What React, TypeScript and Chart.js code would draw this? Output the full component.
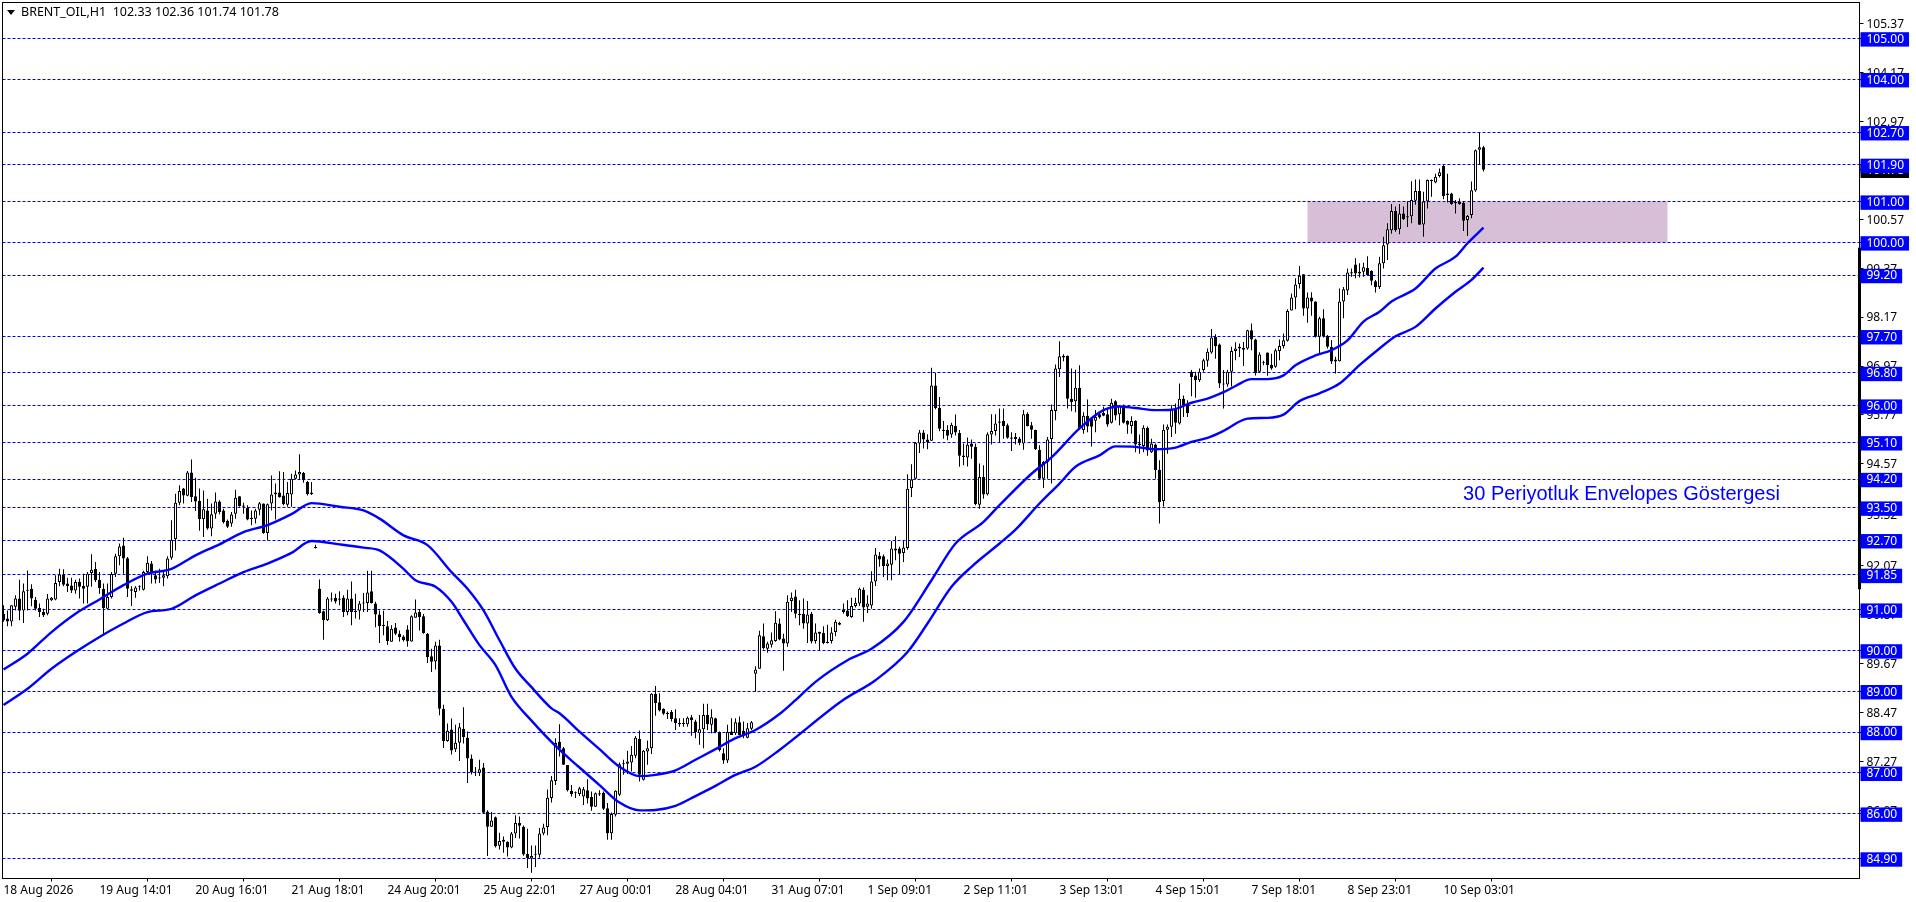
import React, { useEffect, useRef } from "react";
import { Chart, registerables } from "chart.js";

Chart.register(...registerables);

const opens = [
  90.90,90.78,90.71,91.07,91.27,90.98,91.49,91.51,91.24,91.04,
  90.94,90.90,91.23,91.25,91.68,91.86,91.64,91.59,91.47,91.68,
  91.58,91.56,91.90,92.00,91.73,91.51,91.02,91.31,91.88,92.31,
  92.57,92.26,91.50,91.43,91.57,91.49,91.92,92.13,91.84,91.78,
  91.78,91.82,92.27,92.73,93.62,93.97,93.79,94.36,93.78,93.67,
  93.22,93.43,92.99,93.35,93.65,93.43,93.18,93.11,93.35,93.78,
  93.55,93.49,93.25,93.23,93.45,93.60,92.88,93.60,93.83,93.87,
  93.80,93.57,93.82,94.21,94.31,94.35,94.13,93.83,92.52,91.51,
  90.96,90.74,91.25,91.29,91.27,91.29,90.94,91.27,90.97,90.97,
  91.15,91.16,91.45,91.15,90.88,90.63,90.59,90.21,90.56,90.41,
  90.34,90.51,90.22,90.80,90.94,90.84,90.41,89.86,89.73,90.12,
  88.57,87.78,88.06,87.58,87.74,88.08,87.86,87.35,87.03,87.00,
  87.13,86.05,85.68,85.91,85.21,85.36,85.31,85.17,85.51,85.77,
  85.68,85.01,84.90,84.99,84.99,85.51,85.67,86.38,86.80,87.76,
  87.60,87.19,86.56,86.52,86.48,86.42,86.57,86.41,86.17,86.50,
  86.51,86.13,85.52,85.97,86.46,87.21,87.22,87.25,87.42,87.83,
  86.83,87.52,87.60,88.94,88.73,88.57,88.47,88.49,88.34,88.22,
  88.22,88.19,88.36,88.26,87.97,88.07,88.42,88.18,88.34,88.00,
  87.48,87.30,88.01,87.97,88.24,88.03,87.86,88.08,89.43,89.55,
  90.35,90.04,90.14,90.23,90.66,90.29,90.17,91.21,91.32,90.90,
  90.90,90.66,90.90,90.23,90.46,90.43,90.21,90.23,90.45,90.68,
  91.00,90.98,90.82,91.09,91.15,91.49,91.07,91.10,91.69,92.32,
  92.31,92.07,92.10,92.50,92.50,92.39,92.51,93.98,94.21,95.07,
  95.34,95.17,95.14,96.49,95.95,95.41,95.40,95.29,95.50,95.33,
  94.78,94.73,95.07,94.99,93.57,94.25,93.83,95.29,95.38,95.58,
  95.62,95.52,95.22,95.18,95.19,95.07,95.80,95.52,95.41,94.92,
  94.21,94.62,95.18,95.87,96.89,97.22,97.22,96.17,96.11,96.44,
  95.40,95.75,95.68,95.63,95.79,95.82,95.79,95.58,96.11,95.79,
  95.99,95.62,95.50,95.63,95.07,95.01,95.46,94.86,95.05,94.43,
  93.66,95.41,95.48,95.93,95.56,96.17,96.03,96.83,96.74,96.62,
  96.87,97.10,97.30,97.68,97.50,96.54,96.52,96.83,97.34,97.40,
  97.42,97.40,97.85,97.62,96.83,97.05,97.30,97.00,96.95,97.34,
  97.46,97.59,98.33,98.65,98.98,99.22,98.38,98.65,98.55,97.69,
  98.14,97.71,97.44,97.13,97.09,98.55,98.82,99.27,99.46,99.24,
  99.28,99.37,99.30,99.05,98.91,99.49,99.95,100.30,100.77,100.32,
  100.71,100.64,100.64,101.02,101.26,100.44,101.00,101.50,101.47,101.63,
  101.87,101.20,101.20,100.99,100.99,100.97,100.55,100.67,101.27,102.27,
  102.33,
];

const closes = [
  90.74,90.71,91.11,91.27,90.97,91.45,91.46,91.27,91.02,90.94,
  90.86,91.27,91.29,91.65,91.86,91.61,91.58,91.47,91.68,91.56,
  91.51,91.88,91.98,91.72,91.53,91.04,91.31,91.87,92.31,92.55,
  92.25,91.51,91.46,91.54,91.55,91.92,92.15,91.90,91.74,91.76,
  91.84,92.25,92.71,93.62,93.91,93.80,94.36,93.76,93.65,93.22,
  93.46,92.99,93.34,93.65,93.39,93.14,93.03,93.33,93.74,93.54,
  93.52,93.21,93.22,93.43,93.61,92.88,93.58,93.82,93.87,93.76,
  93.58,93.86,94.21,94.31,94.37,94.17,93.83,93.87,92.51,90.92,
  90.74,91.27,91.27,91.20,91.24,90.94,91.27,90.94,90.94,91.15,
  91.17,91.42,91.16,90.88,90.59,90.60,90.23,90.53,90.41,90.33,
  90.25,90.23,90.84,90.93,90.82,90.43,89.84,89.72,90.12,88.57,
  87.78,88.03,87.55,87.74,88.12,87.88,87.35,87.02,87.01,87.09,
  86.02,85.68,85.83,85.20,85.33,85.31,85.17,85.51,85.77,85.70,
  85.00,84.91,84.96,84.99,85.51,85.66,86.39,86.82,87.73,87.59,
  87.20,86.57,86.48,86.50,86.62,86.60,86.37,86.17,86.50,86.47,
  86.12,85.52,85.99,86.56,87.21,87.23,87.28,87.44,87.86,86.95,
  87.54,87.60,88.94,88.71,88.53,88.45,88.44,88.32,88.22,88.19,
  88.19,88.35,88.29,88.00,88.07,88.42,88.19,88.36,88.00,87.56,
  87.30,88.00,87.93,88.24,87.93,87.91,88.09,88.24,89.53,90.37,
  90.06,90.17,90.25,90.68,90.27,90.17,91.19,91.29,90.90,90.86,
  90.66,90.88,90.22,90.44,90.41,90.18,90.18,90.44,90.70,90.63,
  90.94,90.84,91.09,91.17,91.51,91.05,91.15,91.69,92.35,92.23,
  92.07,92.13,92.50,92.45,92.37,92.52,93.96,94.19,95.09,95.34,
  95.17,95.11,96.49,95.94,95.43,95.38,95.26,95.53,95.34,94.77,
  94.74,95.04,94.99,93.59,94.25,93.82,95.30,95.38,95.56,95.61,
  95.50,95.21,95.19,95.23,95.09,95.79,95.50,95.41,94.93,94.21,
  94.62,95.17,95.89,96.91,97.21,97.18,96.17,96.09,96.44,95.44,
  95.75,95.49,95.48,95.72,95.71,95.75,95.54,96.07,95.76,95.99,
  95.58,95.53,95.62,95.05,95.03,95.46,94.90,95.07,94.42,93.64,
  95.41,95.48,95.91,95.58,96.17,96.01,95.82,96.70,96.62,96.83,
  97.11,97.32,97.67,97.46,96.54,96.52,96.83,97.34,97.40,97.44,
  97.37,97.85,97.62,96.80,97.25,97.04,96.99,96.91,97.36,97.46,
  97.60,98.32,98.65,98.97,99.18,98.38,98.65,98.55,97.69,98.14,
  97.70,97.44,97.08,97.08,98.55,98.85,99.26,99.24,99.24,99.28,
  99.39,99.20,99.06,98.91,99.49,99.93,100.32,100.77,100.30,100.71,
  100.57,100.61,101.04,101.26,100.43,101.00,101.53,101.53,101.61,101.72,
  101.14,101.16,100.94,100.96,100.94,100.53,100.65,101.28,102.26,102.33,
  101.78,
];

const highs = [
  91.11,90.98,91.11,91.35,91.73,91.64,91.96,91.62,91.31,91.15,
  91.02,91.38,91.31,91.84,92.00,91.99,91.78,91.78,91.73,91.76,
  91.88,91.92,92.36,92.17,91.92,91.64,91.64,91.92,92.37,92.62,
  92.76,92.29,91.57,91.58,91.60,91.95,92.31,92.19,91.96,92.00,
  91.94,92.31,93.19,93.84,94.05,93.98,94.40,94.68,94.23,93.97,
  93.92,93.72,93.60,93.87,93.68,93.47,93.21,93.39,93.94,93.78,
  93.62,93.56,93.43,93.47,93.64,93.60,93.60,94.29,94.09,94.39,
  94.37,94.13,94.33,94.41,94.81,94.37,94.15,94.13,92.59,91.74,
  90.98,91.31,91.42,91.39,91.45,91.35,91.49,91.69,91.39,91.21,
  91.41,91.95,91.95,91.19,90.98,90.97,90.72,90.62,90.67,90.49,
  90.37,90.62,90.86,91.25,91.00,90.89,90.43,90.04,90.21,90.26,
  88.67,88.21,88.33,88.18,88.22,88.61,88.01,87.45,87.14,87.32,
  87.24,86.08,86.04,85.93,85.53,85.44,85.32,85.55,85.96,85.93,
  85.71,85.63,85.22,85.22,85.65,85.75,86.59,86.92,87.85,88.19,
  87.63,87.19,86.70,86.54,86.66,86.65,86.84,86.54,86.52,86.57,
  86.54,86.26,86.03,86.57,87.25,87.32,87.54,87.66,87.90,88.04,
  87.56,87.79,88.95,89.13,88.95,88.58,88.50,88.54,88.56,88.34,
  88.34,88.38,88.42,88.30,88.42,88.69,88.69,88.56,88.35,88.01,
  87.60,88.18,88.34,88.34,88.38,88.26,88.22,88.27,89.61,90.48,
  90.66,90.21,90.44,90.96,90.78,90.41,91.35,91.42,91.49,91.23,
  91.27,91.21,90.94,90.66,90.46,90.59,90.63,90.57,90.75,90.70,
  91.15,91.23,91.29,91.29,91.54,91.54,91.35,91.94,92.51,92.41,
  92.35,92.23,92.68,92.80,92.54,92.70,94.32,94.56,95.11,95.40,
  95.40,95.30,96.93,96.80,96.21,95.62,95.52,95.58,95.78,95.40,
  95.07,95.22,95.17,95.07,94.58,94.54,95.35,95.79,95.79,95.93,
  95.93,95.56,95.35,95.33,95.23,95.89,95.84,95.60,95.41,95.03,
  94.64,95.23,96.03,97.01,97.58,97.26,97.23,96.91,96.88,96.99,
  95.84,96.15,95.71,95.89,95.84,95.97,95.93,96.17,96.13,96.01,
  96.03,95.64,95.74,95.64,95.29,95.52,95.49,95.19,95.07,94.66,
  95.54,95.54,96.01,96.05,96.54,96.25,96.13,96.87,96.83,96.91,
  97.15,97.40,97.88,97.75,97.52,96.87,96.88,97.44,97.55,97.52,
  97.56,97.86,98.01,97.64,97.31,97.10,97.30,97.27,97.40,97.62,
  97.77,98.36,98.75,99.12,99.42,99.22,98.77,98.78,98.56,98.18,
  98.36,97.73,97.61,97.20,98.87,98.91,99.36,99.36,99.61,99.49,
  99.50,99.66,99.32,99.08,99.65,100.14,100.47,100.94,100.88,100.94,
  100.88,101.01,101.50,101.54,101.54,101.24,101.54,101.54,101.68,101.81,
  101.90,101.68,101.22,101.04,101.08,101.00,100.67,101.49,102.28,102.70,
  102.36,
];

const lows = [
  90.70,90.59,90.59,90.98,90.74,90.67,90.98,91.08,90.98,90.82,
  90.82,90.86,91.21,91.23,91.57,91.57,91.43,91.41,91.39,91.27,
  91.15,91.15,91.56,91.68,91.39,90.41,91.00,91.27,91.80,92.09,
  91.88,91.31,91.09,91.29,91.47,91.47,91.87,91.64,91.64,91.65,
  91.57,91.76,92.22,92.45,93.56,93.60,93.78,93.64,93.42,92.93,
  92.78,92.96,92.80,93.23,93.34,93.11,93.00,93.03,93.23,93.52,
  93.35,93.19,93.07,93.11,93.31,92.86,92.70,93.43,93.21,93.74,
  93.56,93.52,93.52,94.19,94.19,94.11,93.80,93.81,92.50,90.90,
  90.26,90.72,91.19,91.15,91.11,90.82,90.86,90.62,90.78,90.76,
  90.94,90.94,91.15,90.57,90.18,90.37,90.13,90.21,90.37,90.22,
  90.22,90.09,90.21,90.80,90.49,90.41,89.69,89.47,89.53,88.41,
  87.61,87.76,87.45,87.51,87.29,87.72,86.75,86.96,86.92,86.92,
  86.00,84.96,85.67,85.17,85.12,85.04,84.95,85.15,85.40,85.39,
  84.97,84.67,84.55,84.69,84.92,85.47,85.47,86.27,86.70,87.40,
  87.19,86.54,86.42,86.38,86.43,86.21,86.25,86.07,86.16,86.43,
  86.09,85.36,85.36,85.93,86.43,86.95,86.97,87.03,87.36,86.79,
  86.81,87.20,87.46,88.40,88.50,88.42,88.32,88.26,88.05,88.13,
  88.13,88.13,87.91,87.85,87.69,87.60,88.05,87.97,87.97,87.52,
  87.22,87.24,87.93,87.93,87.93,87.85,87.85,88.05,88.99,89.55,
  90.02,89.94,90.07,90.21,90.25,89.50,90.09,90.94,90.79,90.62,
  90.53,90.18,90.17,90.17,90.00,90.15,90.17,90.17,90.35,90.62,
  90.90,90.82,90.80,91.05,91.09,90.70,90.92,91.02,91.58,92.05,
  91.80,91.72,91.72,92.21,91.86,92.17,92.47,93.76,94.19,94.84,
  94.95,94.93,95.13,95.91,95.37,95.19,95.15,95.21,95.27,94.50,
  94.54,94.51,94.70,93.56,93.47,93.72,93.80,95.05,95.27,95.11,
  95.19,95.19,94.89,95.05,95.03,94.92,95.49,95.19,94.91,94.19,
  93.98,94.21,94.09,95.64,96.70,97.09,95.93,95.86,95.84,95.40,
  95.31,95.35,95.00,95.35,95.68,95.74,95.48,95.56,95.64,95.52,
  95.56,95.31,95.31,94.86,94.82,94.86,94.77,94.84,94.21,93.11,
  93.53,94.82,95.23,95.31,95.54,95.72,95.72,96.23,96.19,96.58,
  96.83,96.95,97.27,97.15,96.43,95.93,96.46,96.47,97.11,97.19,
  96.97,97.37,97.36,96.74,96.80,96.99,96.73,96.88,96.93,97.11,
  97.40,97.57,98.33,98.36,98.87,98.20,98.03,98.20,97.67,97.28,
  97.67,97.40,97.02,96.79,97.08,98.14,98.71,99.16,99.12,99.14,
  99.16,99.18,98.95,98.77,98.86,99.36,99.57,100.21,100.26,100.20,
  100.55,100.38,100.47,100.92,100.43,100.14,100.83,101.12,101.45,101.59,
  101.06,100.98,100.92,100.71,100.92,100.28,100.16,100.59,101.24,101.91,
  101.74,
];

const upperAt = [0,6,12,18,24,30,36,42,48,54,60,66,72,77,84,90,94,100,106,112,116,120,124,128,132,137,139,144,149,154,159,163,168,173,178,183,188,194,198,203,211,217,225,232,238,245,249,257,262,269,275,279,283,288,292,297,301,305,308,312,316,320,323,328,332,336,340,344,347,353,358,363,366,370];
const upperBand = [89.53,89.92,90.45,90.90,91.25,91.60,91.88,92.00,92.33,92.60,92.90,93.07,93.34,93.61,93.52,93.43,93.23,92.82,92.58,91.92,91.51,90.98,90.25,89.55,89.10,88.58,88.46,88.01,87.58,87.15,86.92,86.95,87.06,87.32,87.58,87.85,88.05,88.44,88.78,89.23,89.76,90.04,90.70,91.72,92.62,93.15,93.56,94.33,94.73,95.44,95.89,95.98,95.94,95.89,95.90,96.07,96.17,96.33,96.48,96.65,96.65,96.74,96.99,97.23,97.36,97.60,98.06,98.30,98.55,98.87,99.36,99.65,99.98,100.36];
const lowerAt = [0,6,12,18,24,30,36,42,48,54,60,66,72,77,84,90,94,100,103,108,112,115,119,123,127,132,138,144,149,154,159,163,168,173,178,183,188,194,210,218,226,231,237,242,249,253,259,264,268,274,278,283,288,293,297,301,305,311,316,320,324,329,334,339,344,348,353,358,363,367,370];
const lowerBand = [88.66,89.06,89.55,89.96,90.33,90.66,90.94,91.02,91.35,91.64,91.92,92.13,92.39,92.68,92.60,92.52,92.45,92.00,91.72,91.56,91.19,90.74,90.13,89.64,88.86,88.28,87.66,87.13,86.70,86.27,86.08,86.09,86.19,86.43,86.68,86.95,87.15,87.56,88.79,89.27,89.96,90.66,91.56,92.05,92.62,92.96,93.60,94.09,94.50,94.78,95.00,94.99,94.93,94.97,95.11,95.21,95.38,95.68,95.70,95.78,96.11,96.30,96.54,96.99,97.40,97.70,97.93,98.38,98.79,99.08,99.38];

const levels = [105, 104, 102.7, 101.9, 101, 100, 99.2, 97.7, 96.8, 96, 95.1, 94.2, 93.5, 92.7, 91.85, 91, 90, 89, 88, 87, 86, 84.9];
const priceTicks = [105.37, 104.17, 102.97, 100.57, 99.37, 98.17, 96.97, 95.77, 94.57, 93.32, 92.07, 90.87, 89.67, 88.47, 87.27, 86.07];
const lastPrice = 101.78;

const timeAt = [0, 24, 48, 72, 96, 120, 144, 168, 192, 216, 240, 264, 288, 312, 336, 360];
const timeLabels = ["18 Aug 2026", "19 Aug 14:01", "20 Aug 16:01", "21 Aug 18:01", "24 Aug 20:01", "25 Aug 22:01", "27 Aug 00:01", "28 Aug 04:01", "31 Aug 07:01", "1 Sep 09:01", "2 Sep 11:01", "3 Sep 13:01", "4 Sep 15:01", "7 Sep 18:01", "8 Sep 23:01", "10 Sep 03:01"];

const header = "BRENT_OIL,H1  102.33 102.36 101.74 101.78";
const note = "30 Periyotluk Envelopes Göstergesi";
const axisFont = { family: "'Noto Sans'", size: 12 };

// stop the axes from reserving room for their first and last labels
const noPadding = (s: any) => {
    s.paddingTop = 0;
    s.paddingBottom = 0;
    s.paddingLeft = 0;
    s.paddingRight = 0;
};

const App = () => {
    const ref = useRef<HTMLCanvasElement>(null);

    useEffect(() => {
        const candles = opens.map((o, i) => ({ o, c: closes[i], h: highs[i], l: lows[i], x: i }));

        // the shaded zone goes under the dashed levels
        const zone = {
            id: "zone",
            beforeDraw(chart: any) {
                const { ctx, chartArea: a, scales: { x, y } } = chart;
                ctx.save();
                ctx.fillStyle = "#D8BFD8";
                ctx.fillRect(x.getPixelForValue(326), y.getPixelForValue(101), x.getPixelForValue(416) - x.getPixelForValue(326), y.getPixelForValue(100) - y.getPixelForValue(101));
                // thick stretch of the right border
                ctx.fillStyle = "#000";
                ctx.fillRect(a.right - 1.5, y.getPixelForValue(99.87), 3, y.getPixelForValue(91.5) - y.getPixelForValue(99.87));
                ctx.restore();
            },
        };
        const texts = {
            id: "texts",
            afterDraw(chart: any) {
                const { ctx, chartArea: a, scales: { x, y } } = chart;
                ctx.save();
                ctx.strokeStyle = "#000";
                ctx.lineWidth = 1;
                ctx.strokeRect(a.left, a.top, a.right - a.left, a.bottom - a.top);

                ctx.fillStyle = "#000";
                ctx.beginPath();
                ctx.moveTo(7, 10);
                ctx.lineTo(15, 10);
                ctx.lineTo(11, 15);
                ctx.fill();
                ctx.font = "12.5px 'Noto Sans'";
                ctx.textBaseline = "middle";
                ctx.fillText(header, 21, 12.5);

                ctx.fillStyle = "#0000ff";
                ctx.font = "20px 'Liberation Sans'";
                ctx.fillText(note, x.getPixelForValue(364.9), y.getPixelForValue(93.83));
                ctx.restore();
            },
        };

        const chart = new Chart(ref.current as HTMLCanvasElement, {
            type: "bar",
            data: {
                datasets: [
                    {
                        type: "line",
                        data: upperAt.map((x, i) => ({ x, y: upperBand[i] })),
                        borderColor: "#0000ff",
                        borderWidth: 2.4,
                        pointRadius: 0,
                        cubicInterpolationMode: "monotone",
                        order: 0,
                    },
                    {
                        type: "line",
                        data: lowerAt.map((x, i) => ({ x, y: lowerBand[i] })),
                        borderColor: "#0000ff",
                        borderWidth: 2.4,
                        pointRadius: 0,
                        cubicInterpolationMode: "monotone",
                        order: 0,
                    },
                    {
                        data: candles.map((d) => ({ x: d.x, y: [d.o, d.c] })),
                        backgroundColor: candles.map((d) => (d.c >= d.o ? "#fff" : "#000")),
                        borderColor: "#000",
                        borderWidth: 1,
                        borderSkipped: false,
                        inflateAmount: 0,
                        barThickness: 3,
                        minBarLength: 1,
                        grouped: false,
                        order: 1,
                    },
                    {
                        data: candles.map((d) => ({ x: d.x, y: [d.l, d.h] })),
                        backgroundColor: "#000",
                        borderWidth: 0,
                        inflateAmount: 0,
                        barThickness: 1,
                        grouped: false,
                        order: 2,
                    },
                ],
            },
            plugins: [zone, texts],
            options: {
                animation: false,
                responsive: false,
                devicePixelRatio: 1,
                layout: { padding: { left: 2.5, top: 2.5, right: 0, bottom: 0 } },
                plugins: { legend: { display: false }, tooltip: { enabled: false } },
                scales: {
                    x: {
                        type: "linear",
                        offset: false,
                        min: -0.25,
                        max: 464,
                        afterFit: (s: any) => { s.height = 23.5; noPadding(s); },
                        afterBuildTicks: (s: any) => { s.ticks = timeAt.map((value) => ({ value })); },
                        grid: { drawOnChartArea: false, tickLength: 3, tickColor: "#000" },
                        border: { color: "#000" },
                        ticks: {
                            autoSkip: false,
                            maxRotation: 0,
                            align: "start",
                            padding: 2,
                            color: "#000",
                            font: axisFont,
                            callback: (v: any) => timeLabels[timeAt.indexOf(v)],
                        },
                    },
                    y: {
                        type: "linear",
                        position: "right",
                        min: 84.41,
                        max: 105.88,
                        afterFit: (s: any) => { s.width = 56.5; noPadding(s); },
                        afterBuildTicks: (s: any) => {
                            s.ticks = [...priceTicks, lastPrice, ...levels].map((value) => ({ value }));
                        },
                        grid: {
                            color: (c: any) => (levels.includes(c.tick?.value) ? "#0000ff" : "rgba(0,0,0,0)"),
                            tickColor: "#000",
                            tickLength: 4,
                        },
                        border: { color: "#000", dash: [3, 2] },
                        ticks: {
                            autoSkip: false,
                            crossAlign: "near",
                            padding: 3,
                            labelOffset: 1,
                            font: axisFont,
                            color: (c: any) => (priceTicks.includes(c.tick?.value) ? "#000" : "#fff"),
                            showLabelBackdrop: (c: any) => !priceTicks.includes(c.tick?.value),
                            backdropColor: (c: any) => (c.tick?.value === lastPrice ? "#000" : "#0000ff"),
                            backdropPadding: { left: 6, right: 5, top: 0, bottom: 0 },
                            callback: (v: any) => Number(v).toFixed(2),
                        },
                    },
                },
            } as any,
        } as any);

        return () => { chart.destroy(); };
    }, []);

    return (
        <div style={{ position: "fixed", left: 0, top: 0, background: "#fff" }}>
            <canvas ref={ref} width={1916} height={902} style={{ display: "block" }}></canvas>
        </div>
    );
};

export default App;
